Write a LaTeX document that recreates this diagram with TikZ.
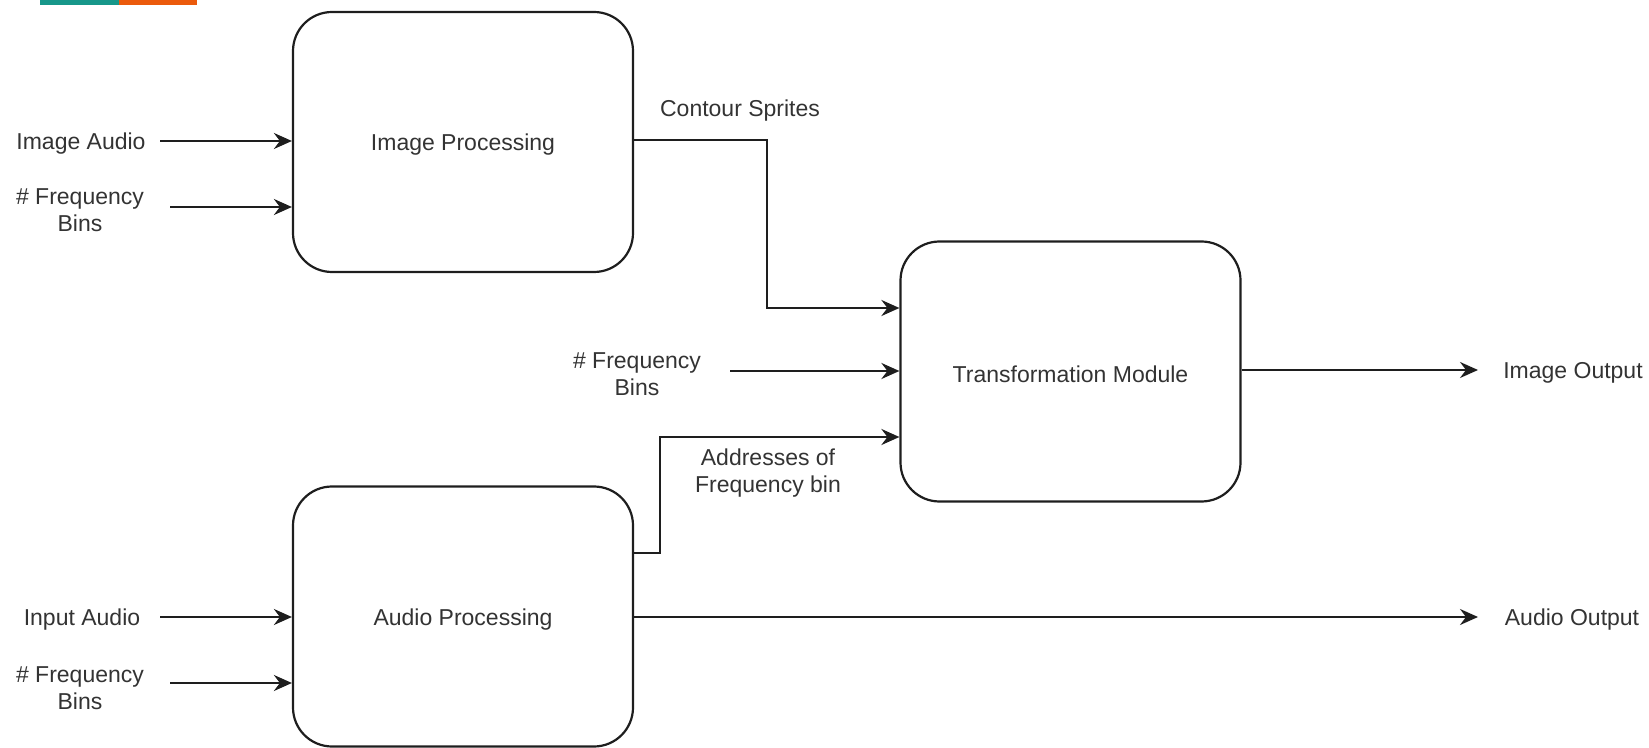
\documentclass[tikz,border=0pt]{standalone}
\usepackage{fontspec}
\setmainfont{Liberation Sans}
\usetikzlibrary{arrows.meta}
\definecolor{txt}{HTML}{333333}
\definecolor{ln}{HTML}{1E1E1E}
\definecolor{barteal}{HTML}{17978A}
\definecolor{barorange}{HTML}{EB5A0C}
\tikzset{
  blockbox/.style={draw=ln, line width=1.1pt, rounded corners=19.5pt,
    minimum width=170pt, minimum height=130pt, inner sep=0pt,
    font=\fontsize{11.5}{13.5}\selectfont, text=txt},
  lbl/.style={inner sep=0pt, align=center, text=txt,
    font=\fontsize{11.5}{13.5}\selectfont},
  arr/.style={draw=ln, line width=1.1pt,
    -{Stealth[length=9pt, width=8pt, inset=3pt]}}
}
\begin{document}
\begin{tikzpicture}[x=0.5pt, y=-0.5pt]
\useasboundingbox (0,0) rectangle (1649,748);
% header strip
\fill[barteal] (40,0) rectangle (119,5);
\fill[barorange] (119,0) rectangle (197,5);

% processing blocks
\node[blockbox] (ip) at (463,142) {};
\node[blockbox] (ap) at (463,616.5) {};
\node[blockbox] (tm) at (1070.5,371.5) {};
\node[lbl] (ipt) at (ip.center) [yshift=-1.5pt] {Image Processing};
\node[lbl] (apt) at (ap.center) [yshift=-1.5pt] {Audio Processing};
\node[lbl] (tmt) at (tm.center) [yshift=-1.5pt] {Transformation Module};

% input labels
\node[lbl] (ia) at (81,144) {Image Audio};
\node[lbl] (f1) at (80,210) {\# Frequency\\Bins};
\node[lbl] (f2) at (637,374) {\# Frequency\\Bins};
\node[lbl] (inA) at (82,620) {Input Audio};
\node[lbl] (f3) at (80,688) {\# Frequency\\Bins};

% output and edge labels
\node[lbl] (io) at (1573,373) {Image Output};
\node[lbl] (ao) at (1572,620) {Audio Output};
\node[lbl] (cs) at (740,111) {Contour Sprites};
\node[lbl] (adr) at (768,473) {Addresses of\\Frequency bin};

% connector end points
\coordinate (s1) at (160,141);
\coordinate (s2) at (170,207);
\coordinate (s3) at (730,371);
\coordinate (s4) at (160,617);
\coordinate (s5) at (170,683);
\coordinate (e1) at (1478,370);
\coordinate (e2) at (1478,617);

% inputs
\draw[arr] (s1) -- (s1 -| ip.west);
\draw[arr] (s2) -- (s2 -| ip.west);
\draw[arr] (s3) -- (s3 -| tm.west);
\draw[arr] (s4) -- (s4 -| ap.west);
\draw[arr] (s5) -- (s5 -| ap.west);

% contour sprites into the transformation module
\draw[arr] (ip.east |- 0,140) -- (767,140) -- (767,308) -- (tm.west |- 0,308);
% frequency bin addresses
\draw[arr] (ap.east |- 0,553) -- (660,553) -- (660,437) -- (tm.west |- 0,437);

% outputs
\draw[arr] (tm.east |- e1) -- (e1);
\draw[arr] (ap.east |- e2) -- (e2);
\end{tikzpicture}
\end{document}
